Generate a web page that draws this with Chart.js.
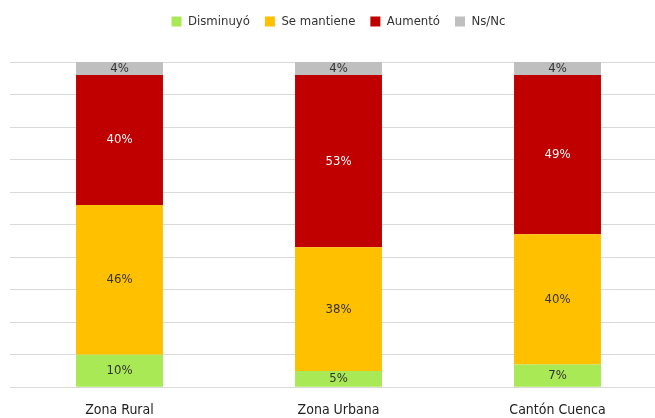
<!DOCTYPE html>
<html>
<head>
<meta charset="utf-8">
<script src="https://cdn.jsdelivr.net/npm/chart.js@4"></script>
<style>
    html, body { margin: 0; padding: 0; background: #fff; overflow: hidden; }
    #wrap { width: 667px; height: 426px; }
</style>
</head>
<body>
<div id="wrap"><canvas id="chart"></canvas></div>
<script>
const zonas = ['Zona Rural', 'Zona Urbana', 'Cantón Cuenca'];
const disminuyo = [10, 5, 7];
const seMantiene = [46, 38, 40];
const aumento = [40, 53, 49];
const nsnc = [4, 4, 4];

const FONT = "'Liberation Sans Narrow', 'DejaVu Sans Condensed', sans-serif";

// draws the % inside each segment (no datalabels plugin available)
const segmentLabels = {
    id: 'segmentLabels',
    afterDatasetsDraw(chart) {
        const ctx = chart.ctx;
        ctx.save();
        ctx.font = '13px ' + FONT;
        ctx.textAlign = 'center';
        ctx.textBaseline = 'middle';
        chart.data.datasets.forEach((ds, i) => {
            chart.getDatasetMeta(i).data.forEach((bar, j) => {
                const mid = (bar.y + bar.base) / 2;
                ctx.fillStyle = ds.labelColor;
                ctx.fillText(ds.data[j] + '%', bar.x, mid);
            });
        });
        ctx.restore();
    }
};

// extra room under the legend
const legendGap = {
    id: 'legendGap',
    beforeInit(chart) {
        const origFit = chart.legend.fit;
        chart.legend.fit = function () {
            origFit.bind(chart.legend)();
            this.height += 24;
        };
    }
};

new Chart(document.getElementById('chart'), {
    type: 'bar',
    data: {
        labels: zonas,
        datasets: [
            { label: 'Disminuyó', data: disminuyo, backgroundColor: '#a9e956', labelColor: '#333' },
            { label: 'Se mantiene', data: seMantiene, backgroundColor: '#ffc000', labelColor: '#333' },
            { label: 'Aumentó', data: aumento, backgroundColor: '#c00000', labelColor: '#fff' },
            { label: 'Ns/Nc', data: nsnc, backgroundColor: '#bfbfbf', labelColor: '#333' }
        ]
    },
    options: {
        responsive: true,
        maintainAspectRatio: false,
        animation: false,
        barPercentage: 0.397,
        categoryPercentage: 1,
        layout: { padding: { left: 10, right: 0, top: 0, bottom: 0 } },
        plugins: {
            tooltip: { enabled: false },
            legend: {
                position: 'top',
                labels: {
                    boxWidth: 10,
                    boxHeight: 10,
                    padding: 15,
                    color: '#333',
                    font: { family: FONT, size: 13 }
                }
            }
        },
        scales: {
            x: {
                stacked: true,
                grid: { display: false },
                border: { display: false },
                ticks: { color: '#222', font: { family: FONT, size: 14 }, padding: 7 }
            },
            y: {
                stacked: true,
                min: 0,
                max: 100,
                ticks: { stepSize: 10, display: false },
                grid: { color: '#d9d9d9', drawTicks: false },
                border: { display: false }
            }
        }
    },
    plugins: [segmentLabels, legendGap]
});
</script>
</body>
</html>
